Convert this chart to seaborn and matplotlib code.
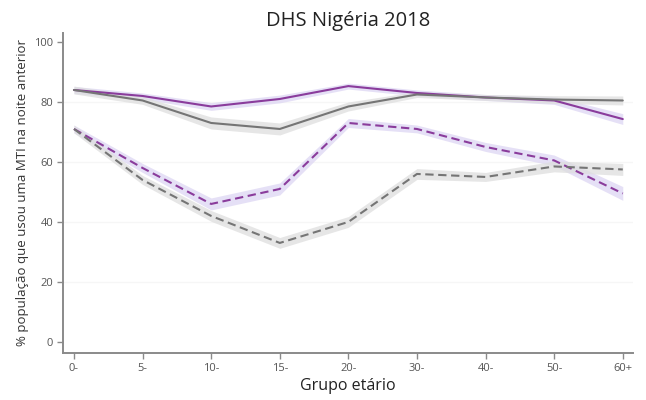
import numpy as np
import pandas as pd
import matplotlib
matplotlib.use("Agg")
import matplotlib.pyplot as plt
import seaborn as sns

# Age groups
age_groups = ["0-", "5-", "10-", "15-", "20-", "30-", "40-", "50-", "60+"]

# % of population that slept under an ITN the previous night
purple_solid = [84.0, 82.0, 78.5, 81.0, 85.3, 83.0, 81.5, 80.5, 74.3]
gray_solid = [84.0, 80.5, 73.0, 71.0, 78.5, 82.5, 81.5, 80.8, 80.5]
purple_dashed = [71.0, 58.0, 46.0, 51.0, 73.0, 71.0, 65.0, 60.5, 49.5]
gray_dashed = [71.0, 54.0, 42.0, 33.0, 40.0, 56.0, 55.0, 58.5, 57.5]

# Half-widths of the confidence bands
purple_solid_ci = [1.2, 1.0, 1.3, 1.3, 1.0, 1.0, 1.0, 1.3, 1.8]
gray_solid_ci = [1.3, 1.3, 2.0, 2.0, 1.5, 1.0, 1.0, 1.3, 1.5]
purple_dashed_ci = [1.3, 1.5, 2.0, 2.0, 1.5, 1.3, 1.5, 1.8, 2.3]
gray_dashed_ci = [1.3, 1.5, 1.8, 1.8, 1.8, 1.8, 1.5, 1.8, 2.0]

PURPLE = "#8a3c9c"
GRAY = "#757575"
PURPLE_BAND = "#ddd6f3"
GRAY_BAND = "#dedede"

x = np.arange(len(age_groups))
series = [
    ("purple_solid", purple_solid, purple_solid_ci, PURPLE, PURPLE_BAND, "-"),
    ("gray_solid", gray_solid, gray_solid_ci, GRAY, GRAY_BAND, "-"),
    ("purple_dashed", purple_dashed, purple_dashed_ci, PURPLE, PURPLE_BAND, (0, (4, 2.2))),
    ("gray_dashed", gray_dashed, gray_dashed_ci, GRAY, GRAY_BAND, (0, (4, 2.2))),
]

sns.set_style("white")
plt.rcParams["font.family"] = ["Open Sans", "DejaVu Sans"]

fig = plt.figure(figsize=(6.46, 4.0), dpi=100)
ax = fig.add_axes([0.0975, 0.1175, 0.8825, 0.80])

# Very faint horizontal guides
for yv in [20, 40, 60, 80]:
    ax.axhline(yv, color="#f6f6f6", lw=1.0, zorder=0)

for name, vals, ci, col, band, ls in series:
    vals = np.asarray(vals)
    ci = np.asarray(ci)
    ax.fill_between(x, vals - ci, vals + ci, color=band, alpha=0.75, lw=0, zorder=1)

for name, vals, ci, col, band, ls in series:
    df = pd.DataFrame({"x": x, "y": vals})
    sns.lineplot(data=df, x="x", y="y", ax=ax, color=col, lw=1.5,
                 linestyle=ls, zorder=3)

ax.set_xlim(-0.16, 8.15)
ax.set_ylim(-3.7, 103)
ax.set_xticks(x)
ax.set_xticklabels(age_groups)
ax.set_yticks([0, 20, 40, 60, 80, 100])

for side in ["top", "right"]:
    ax.spines[side].set_visible(False)
for side in ["left", "bottom"]:
    ax.spines[side].set_color("#8a8a8a")
    ax.spines[side].set_linewidth(1.4)

ax.tick_params(axis="both", which="major", length=4, width=1.0, color="#8a8a8a",
               labelsize=8, labelcolor="#555555", direction="out", pad=3, bottom=True, left=True)

ax.set_xlabel("Grupo etário", fontsize=11.5, color="#222222", labelpad=3)
ax.set_ylabel("% população que usou uma MTI na noite anterior", fontsize=9.5,
              color="#333333", labelpad=4)
ax.set_title("DHS Nigéria 2018", fontsize=14.5, color="#222222", pad=5)

fig.savefig("out.png", dpi=100, facecolor="white")
